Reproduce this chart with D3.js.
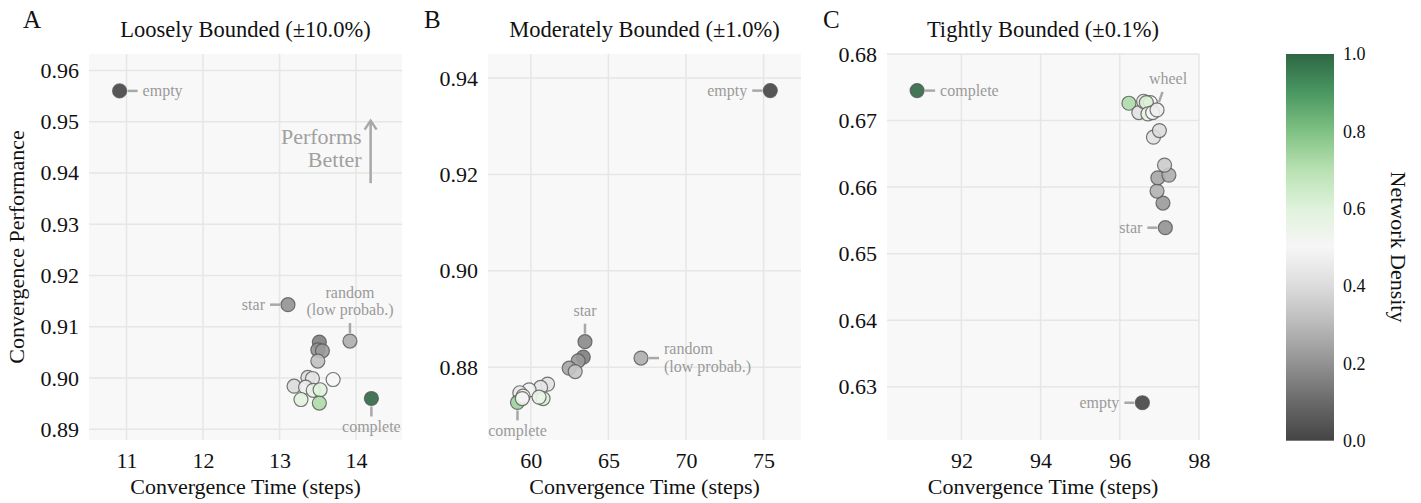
<!DOCTYPE html>
<html><head><meta charset="utf-8">
<script src="https://cdn.jsdelivr.net/npm/d3@7"></script>
<style>
body{margin:0;background:#fff;}
svg{display:block;}
svg text{font-family:"Liberation Serif","Tinos","Times New Roman","DejaVu Serif",serif !important;}
</style></head>
<body><svg id="c" width="1421" height="503"></svg>
<script>
// ---------- DATA ----------
const panelLetters = ["A","B","C"];
const panelTitles = ["Loosely Bounded (\u00b110.0%)","Moderately Bounded (\u00b11.0%)","Tightly Bounded (\u00b10.1%)"];
const xTicksA = [11,12,13,14];
const yTicksA = [0.89,0.90,0.91,0.92,0.93,0.94,0.95,0.96];
const xTicksB = [60,65,70,75];
const yTicksB = [0.88,0.90,0.92,0.94];
const xTicksC = [92,94,96,98];
const yTicksC = [0.63,0.64,0.65,0.66,0.67,0.68];
const cbTicks = [0.0,0.2,0.4,0.6,0.8,1.0];

const timeA = [10.91,13.11,13.92,13.52,13.50,13.56,13.50,13.37,13.43,13.70,13.19,13.34,13.44,13.53,13.28,13.52,14.20];
const perfA = [0.9560,0.9143,0.9072,0.9070,0.9055,0.9053,0.9033,0.9001,0.8999,0.8997,0.8984,0.8982,0.8976,0.8977,0.8958,0.8951,0.8960];
const densA = [0.00,0.20,0.27,0.15,0.20,0.22,0.32,0.40,0.43,0.50,0.40,0.47,0.56,0.60,0.60,0.72,1.00];
const labelA = ["empty","star","random|(low probab.)","","","","","","","","","","","","","","complete"];

const timeB = [75.43,63.49,67.10,63.38,63.05,62.47,62.86,61.08,60.63,59.89,59.29,60.79,60.53,59.14,59.50,59.45];
const perfB = [0.9374,0.8853,0.8819,0.8821,0.8813,0.8798,0.8791,0.8765,0.8758,0.8753,0.8747,0.8735,0.8738,0.8727,0.8740,0.8735];
const densB = [0.00,0.18,0.27,0.15,0.22,0.25,0.33,0.42,0.44,0.48,0.45,0.62,0.55,0.75,0.50,0.52];
const labelB = ["empty","star","random|(low probab.)","","","","","","","","","","","complete","",""];

const timeC = [90.88,96.57,97.15,97.09,96.94,96.96,97.24,97.13,96.85,97.00,96.23,96.48,96.60,96.77,96.67,96.71,96.83,96.94];
const perfC = [0.6745,0.6276,0.6539,0.6576,0.6594,0.6614,0.6618,0.6633,0.6675,0.6685,0.6726,0.6712,0.6729,0.6727,0.6727,0.6710,0.6712,0.6716];
const densC = [1.00,0.00,0.20,0.22,0.28,0.25,0.27,0.35,0.42,0.40,0.72,0.42,0.45,0.50,0.62,0.56,0.50,0.47];
const labelC = ["complete","empty","star","","","","","","","","","","","","","","","wheel"];

// ---------- STYLE / LAYOUT ----------
const svg = d3.select("#c");
const cmapStops = [0,0.1,0.2,0.3,0.4,0.5,0.6,0.7,0.8,0.9,1.0];
const cmapCols = ["#444444","#696969","#929292","#b9b9b9","#dcdcdc","#f6f6f6","#e0f2dc","#b8e1b2","#80c183","#4a9862","#2f6744"];
const color = d3.scaleLinear().domain(cmapStops).range(cmapCols).interpolate(d3.interpolateRgb);

const plotTop=54, plotBottom=440;
const panels = [
  {x0:89,x1:402,xd:[10.51,14.6],yd:[0.8879,0.9632],xt:xTicksA,yt:yTicksA,xf:d3.format("d"),yf:d3.format(".2f"),
   t:timeA,p:perfA,d:densA,l:labelA,
   place:{"empty":"right","star":"left","random|(low probab.)":"above","complete":"below"}},
  {x0:488,x1:801,xd:[57.24,77.41],yd:[0.8649,0.945],xt:xTicksB,yt:yTicksB,xf:d3.format("d"),yf:d3.format(".2f"),
   t:timeB,p:perfB,d:densB,l:labelB,
   place:{"empty":"left","star":"above","random|(low probab.)":"right","complete":"below"}},
  {x0:887,x1:1199,xd:[90.12,98.0],yd:[0.622,0.68],xt:xTicksC,yt:yTicksC,xf:d3.format("d"),yf:d3.format(".2f"),
   t:timeC,p:perfC,d:densC,l:labelC,
   place:{"complete":"right","empty":"left","star":"left","wheel":"slant"}}
];
const letterX=[23,424,823];
const annCol="#9a9a9a", lineCol="#a8a8a8";

panels.forEach((P,i)=>{
  const x=d3.scaleLinear().domain(P.xd).range([P.x0,P.x1]);
  const y=d3.scaleLinear().domain(P.yd).range([plotBottom,plotTop]);
  const g=svg.append("g");
  g.append("rect").attr("x",P.x0).attr("y",plotTop).attr("width",P.x1-P.x0).attr("height",plotBottom-plotTop).attr("fill","#f8f8f8");
  g.selectAll(".gx").data(P.xt).join("line").attr("x1",d=>x(d)).attr("x2",d=>x(d)).attr("y1",plotTop).attr("y2",plotBottom)
    .attr("stroke","#e6e6e6").attr("stroke-width",1.5);
  g.selectAll(".gy").data(P.yt).join("line").attr("y1",d=>y(d)).attr("y2",d=>y(d)).attr("x1",P.x0).attr("x2",P.x1)
    .attr("stroke","#e6e6e6").attr("stroke-width",1.5);
  const ax=g.append("g").attr("transform",`translate(0,${plotBottom})`)
    .call(d3.axisBottom(x).tickValues(P.xt).tickFormat(P.xf).tickSize(0).tickPadding(12));
  ax.select(".domain").remove();
  ax.selectAll("text").attr("font-size",22).attr("fill","#111");
  const ay=g.append("g").attr("transform",`translate(${P.x0},0)`)
    .call(d3.axisLeft(y).tickValues(P.yt).tickFormat(P.yf).tickSize(0).tickPadding(10));
  ay.select(".domain").remove();
  ay.selectAll("text").attr("font-size",22).attr("fill","#111");
  const cx=(P.x0+P.x1)/2;
  g.append("text").attr("x",cx).attr("y",37).attr("text-anchor","middle").attr("font-size",22.5).attr("fill","#111").text(panelTitles[i]);
  g.append("text").attr("x",letterX[i]).attr("y",28).attr("font-size",25).attr("fill","#111").text(panelLetters[i]);
  g.append("text").attr("x",cx).attr("y",494).attr("text-anchor","middle").attr("font-size",22).attr("fill","#111").text("Convergence Time (steps)");
  const R=7;
  P.l.forEach((lab,j)=>{
    if(!lab) return;
    const px=x(P.t[j]), py=y(P.p[j]);
    const mode=P.place[lab];
    const lines=lab.split("|");
    const ln=(a,b,c,d)=>g.append("line").attr("x1",a).attr("y1",b).attr("x2",c).attr("y2",d)
      .attr("stroke",lineCol).attr("stroke-width",2.5);
    const tx=(xx,yy,anchor)=>{
      const t=g.append("text").attr("x",xx).attr("y",yy).attr("text-anchor",anchor).attr("font-size",16).attr("fill",annCol);
      lines.forEach((s,k)=>t.append("tspan").attr("x",xx).attr("dy",k?17.5:0).text(s));
    };
    const off=(lines.length-1)*17.5/2;
    if(mode==="right"){ln(px+R+1,py,px+R+11,py);tx(px+R+16,py+5-off,"start");}
    if(mode==="left"){ln(px-R-1,py,px-R-11,py);tx(px-R-16,py+5-off,"end");}
    if(mode==="above"){ln(px,py-R-1,px,py-R-11);tx(px,py-R-19-(lines.length-1)*17.5,"middle");}
    if(mode==="below"){ln(px,py+R+1,px,py+R+11);tx(px,py+R+27,"middle");}
    if(mode==="slant"){ln(px+2,py-R-1,px+5.5,py-R-11);tx(px+11,py-R-19,"middle");}
  });
  const idx=d3.range(P.t.length);
  g.selectAll("circle.pt").data(idx).join("circle").attr("class","pt")
    .attr("cx",j=>x(P.t[j])).attr("cy",j=>y(P.p[j])).attr("r",R)
    .attr("fill",j=>color(P.d[j])).attr("fill-opacity",0.9)
    .attr("stroke","#555").attr("stroke-opacity",0.8).attr("stroke-width",1.2);
  if(i===0){
    const axp=x(14.19);
    g.append("line").attr("x1",axp).attr("x2",axp).attr("y1",y(0.938)).attr("y2",y(0.9502))
      .attr("stroke","#a8a8a8").attr("stroke-width",2.5);
    g.append("path").attr("d",`M${axp-6},${y(0.9502)+9} L${axp},${y(0.9502)} L${axp+6},${y(0.9502)+9}`)
      .attr("fill","none").attr("stroke","#a8a8a8").attr("stroke-width",2.5);
    const t=g.append("text").attr("text-anchor","end").attr("font-size",22).attr("fill","#a0a0a0");
    t.append("tspan").attr("x",axp-9).attr("y",144).text("Performs");
    t.append("tspan").attr("x",axp-9).attr("y",166.5).text("Better");
  }
});
svg.append("text").attr("transform","translate(24,247) rotate(-90)").attr("text-anchor","middle")
  .attr("font-size",22).attr("fill","#111").text("Convergence Performance");

const cbX=1286, cbW=48, cbTop=54, cbBot=440.7;
const defs=svg.append("defs");
const grad=defs.append("linearGradient").attr("id","cbg").attr("x1",0).attr("y1",1).attr("x2",0).attr("y2",0);
d3.range(0,1.0001,0.05).forEach(v=>grad.append("stop").attr("offset",v).attr("stop-color",color(v)));
svg.append("rect").attr("x",cbX).attr("y",cbTop).attr("width",cbW).attr("height",cbBot-cbTop).attr("fill","url(#cbg)");
const cy=d3.scaleLinear().domain([0,1]).range([cbBot,cbTop]);
const cax=svg.append("g").attr("transform",`translate(${cbX+cbW},0)`)
  .call(d3.axisRight(cy).tickValues(cbTicks).tickFormat(d3.format(".1f")).tickSize(0).tickPadding(9));
cax.select(".domain").remove();
cax.selectAll("text").attr("font-size",18).attr("fill","#111");
svg.append("text").attr("transform","translate(1391,247) rotate(90)").attr("text-anchor","middle")
  .attr("font-size",22).attr("fill","#111").text("Network Density");
</script></body></html>
